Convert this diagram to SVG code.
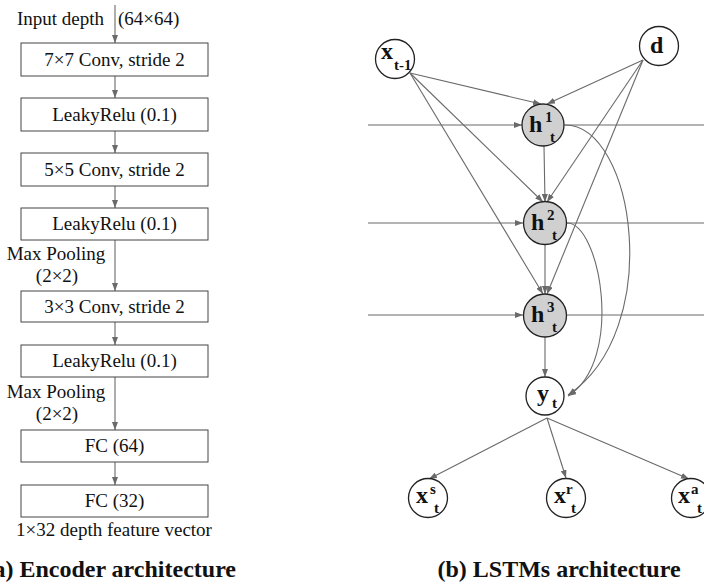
<svg xmlns="http://www.w3.org/2000/svg" width="704" height="582" viewBox="0 0 704 582">
<style>
.box{fill:#fff;stroke:#444;stroke-width:1}
text{font-family:'Liberation Serif','Times New Roman','DejaVu Serif',serif}
.t{font-size:19px;fill:#111}
.mid{text-anchor:middle}
.ttl{font-size:24px;font-weight:bold;fill:#111}
.ln{stroke:#6a6a6a;stroke-width:1.1;fill:none}
.arr{marker-end:url(#ah)}
.nd{fill:#fff;stroke:#222;stroke-width:1.3}
.hd{fill:#d0d0d0;stroke:#222;stroke-width:1.3}
.big{font-weight:bold;font-size:24px;fill:#111}
.sm{font-weight:bold;font-size:15px;fill:#111}
</style>
<defs>
<marker id="ah" markerUnits="userSpaceOnUse" markerWidth="8" markerHeight="6" refX="8" refY="3" orient="auto">
<path d="M0,0 L8,3 L0,6 z" fill="#6a6a6a"/>
</marker>
</defs>
<rect width="704" height="582" fill="#fff"/>

<g id="connectors">
<line class="ln arr" x1="115" y1="5" x2="115" y2="43"/>
<line class="ln arr" x1="115" y1="76" x2="115" y2="98"/>
<line class="ln arr" x1="115" y1="131" x2="115" y2="153"/>
<line class="ln arr" x1="115" y1="186" x2="115" y2="208"/>
<line class="ln arr" x1="115" y1="240" x2="115" y2="291"/>
<line class="ln arr" x1="115" y1="322" x2="115" y2="345"/>
<line class="ln arr" x1="115" y1="377" x2="115" y2="430"/>
<line class="ln arr" x1="115" y1="462" x2="115" y2="485"/>
<line class="ln arr" x1="368" y1="125" x2="522" y2="125"/>
<line class="ln" x1="564" y1="125" x2="704" y2="125"/>
<line class="ln arr" x1="368" y1="223" x2="523" y2="223"/>
<line class="ln" x1="567" y1="223" x2="704" y2="223"/>
<line class="ln arr" x1="368" y1="315" x2="523" y2="315"/>
<line class="ln" x1="567" y1="315" x2="704" y2="315"/>
<line class="ln arr" x1="410" y1="73" x2="541" y2="104"/>
<line class="ln arr" x1="410" y1="73" x2="543" y2="202"/>
<line class="ln arr" x1="410" y1="73" x2="543" y2="294"/>
<line class="ln arr" x1="643" y1="60" x2="547" y2="104"/>
<line class="ln arr" x1="643" y1="60" x2="547" y2="202"/>
<line class="ln arr" x1="643" y1="60" x2="547" y2="294"/>
<line class="ln arr" x1="544" y1="146" x2="545" y2="202"/>
<line class="ln arr" x1="545" y1="244" x2="545" y2="294"/>
<line class="ln arr" x1="545" y1="337" x2="545" y2="377"/>
<path class="ln arr" d="M565,125 C635,125 665,330 568,395"/>
<path class="ln arr" d="M567,223 C600,223 625,360 568,396"/>
<line class="ln arr" x1="547" y1="418" x2="429" y2="479"/>
<line class="ln arr" x1="547" y1="418" x2="566" y2="478"/>
<line class="ln arr" x1="547" y1="418" x2="689" y2="479"/>
</g>

<g id="enc-input">
<text class="t" x="104" y="25" text-anchor="end">Input depth</text>
<text class="t" x="118" y="25">(64×64)</text>
</g>
<g id="enc-conv7"><rect class="box" x="21" y="43" width="187" height="33"/><text class="t mid" x="114.5" y="66">7×7 Conv, stride 2</text></g>
<g id="enc-relu1"><rect class="box" x="21" y="98" width="187" height="33"/><text class="t mid" x="114.5" y="121">LeakyRelu (0.1)</text></g>
<g id="enc-conv5"><rect class="box" x="21" y="153" width="187" height="33"/><text class="t mid" x="114.5" y="176">5×5 Conv, stride 2</text></g>
<g id="enc-relu2"><rect class="box" x="21" y="208" width="187" height="32"/><text class="t mid" x="114.5" y="230">LeakyRelu (0.1)</text></g>
<g id="enc-pool1"><text class="t mid" x="56" y="260">Max Pooling</text><text class="t mid" x="57" y="282">(2×2)</text></g>
<g id="enc-conv3"><rect class="box" x="21" y="291" width="187" height="31"/><text class="t mid" x="114.5" y="313">3×3 Conv, stride 2</text></g>
<g id="enc-relu3"><rect class="box" x="21" y="345" width="187" height="32"/><text class="t mid" x="114.5" y="367">LeakyRelu (0.1)</text></g>
<g id="enc-pool2"><text class="t mid" x="56" y="398">Max Pooling</text><text class="t mid" x="57" y="420">(2×2)</text></g>
<g id="enc-fc64"><rect class="box" x="21" y="430" width="187" height="32"/><text class="t mid" x="114.5" y="452">FC (64)</text></g>
<g id="enc-fc32"><rect class="box" x="21" y="485" width="187" height="32"/><text class="t mid" x="114.5" y="507">FC (32)</text></g>
<g id="enc-out"><text class="t mid" x="114" y="536">1×32 depth feature vector</text></g>
<g id="title-a"><text class="ttl" x="236" y="577" text-anchor="end">(a) Encoder architecture</text></g>

<g id="n-xt1"><circle class="nd" cx="395" cy="59" r="19.5"/><text class="big" x="381" y="59">x</text><text class="sm" x="394" y="70">t-1</text></g>
<g id="n-d"><circle class="nd" cx="659" cy="46" r="19.5"/><text class="big" x="650" y="53">d</text></g>
<g id="n-h1"><circle class="hd" cx="543" cy="125" r="21"/><text class="big" x="529" y="132">h</text><text class="sm" x="545" y="122">1</text><text class="sm" x="550" y="142">t</text></g>
<g id="n-h2"><circle class="hd" cx="545" cy="223" r="21.5"/><text class="big" x="531" y="230">h</text><text class="sm" x="547" y="220">2</text><text class="sm" x="552" y="240">t</text></g>
<g id="n-h3"><circle class="hd" cx="545" cy="315.5" r="21.5"/><text class="big" x="531" y="322">h</text><text class="sm" x="547" y="312">3</text><text class="sm" x="552" y="332">t</text></g>
<g id="n-y"><circle class="nd" cx="545" cy="396" r="19"/><text class="big" x="537" y="401">y</text><text class="sm" x="552" y="408">t</text></g>
<g id="n-xs"><circle class="nd" cx="428" cy="498" r="19.5"/><text class="big" x="416" y="503">x</text><text class="sm" x="430" y="494">s</text><text class="sm" x="434" y="513">t</text></g>
<g id="n-xr"><circle class="nd" cx="566" cy="498" r="19.5"/><text class="big" x="554" y="503">x</text><text class="sm" x="566" y="494">r</text><text class="sm" x="571" y="513">t</text></g>
<g id="n-xa"><circle class="nd" cx="691" cy="498" r="19.5"/><text class="big" x="678" y="503">x</text><text class="sm" x="691" y="494">a</text><text class="sm" x="697" y="513">t</text></g>
<g id="title-b"><text class="ttl" x="559" y="577" text-anchor="middle">(b) LSTMs architecture</text></g>
</svg>
